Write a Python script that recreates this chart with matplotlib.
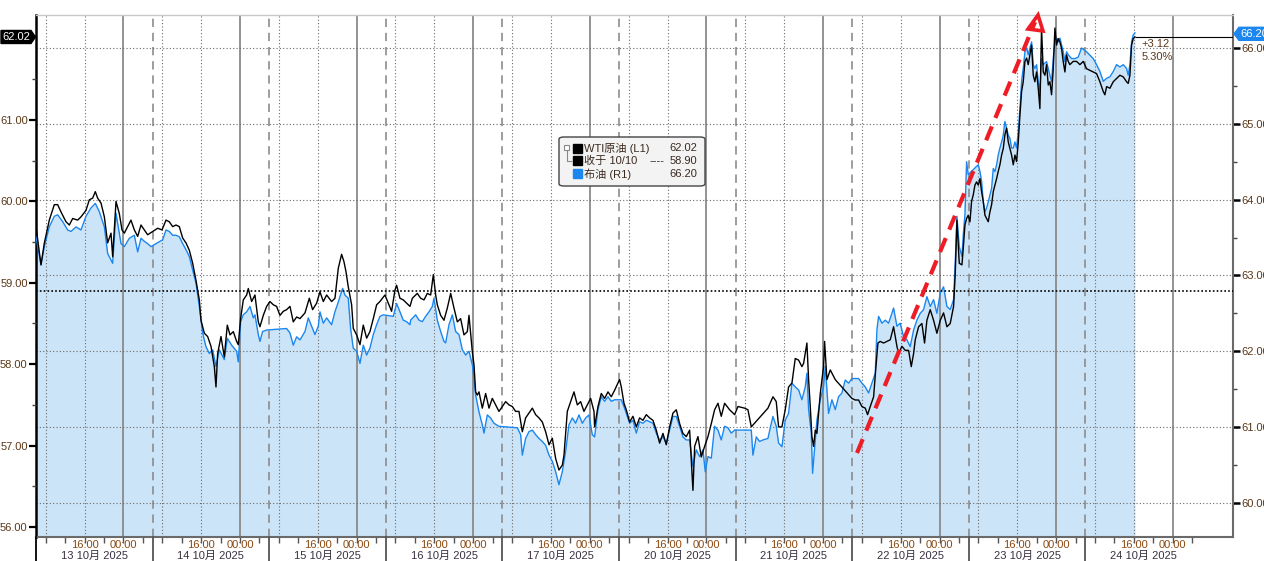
import matplotlib
matplotlib.use('Agg')
import matplotlib.pyplot as plt
from matplotlib import transforms
from matplotlib.patches import Polygon, FancyBboxPatch, Rectangle
from matplotlib.lines import Line2D

plt.rcParams['font.family'] = ['Liberation Sans', 'Noto Sans CJK SC', 'DejaVu Sans']

# ---------------- data ----------------
# time axis: hours since 13 Oct 06:00, sessions of 24h each (weekend compressed)
days = ['13', '14', '15', '16', '17', '20', '21', '22', '23', '24']
month_label = '10月'
year_label = '2025'

wti_t = [0.00, 1.03, 1.72, 2.74, 3.77, 4.46, 5.15, 6.17, 6.86, 7.55, 8.58, 9.26, 10.29, 10.98, 11.66, 12.21,
         12.69, 13.38, 14.07, 14.75, 15.44, 15.78, 16.47, 17.15, 17.70, 18.18, 18.87, 19.55, 20.24, 20.93,
         21.61, 22.30, 22.98, 24.01, 25.04, 25.94, 26.76, 27.44, 28.13, 28.82, 29.50, 30.19, 30.87, 31.56,
         32.25, 32.93, 33.62, 33.96, 34.65, 35.33, 36.02, 36.71, 37.05, 37.39, 38.08, 38.76,
         39.38, 39.93, 40.61, 41.30, 41.64, 42.12, 42.67, 43.36, 43.70, 44.39, 45.07, 45.76, 46.10, 46.79,
         47.48, 48.16, 48.85, 49.53, 50.22, 50.91, 51.59, 52.28, 52.96, 53.65, 54.34, 55.37, 56.26, 56.94,
         57.77, 58.45, 59.14, 59.83, 60.85, 61.54, 62.23, 62.91, 63.39, 63.80, 64.28, 64.97, 65.31, 66.00,
         66.69, 67.37, 68.06, 68.74, 69.43, 70.12, 70.80, 71.83, 72.52, 73.20, 73.89, 74.23, 74.92, 75.60,
         76.29, 76.98,
         77.47, 78.49, 79.18, 79.87, 80.55, 81.24, 81.79, 82.27, 82.61, 83.30, 83.98, 84.67, 85.36, 86.04,
         86.73, 87.41, 88.10, 88.79, 89.13, 89.82, 90.16, 90.50, 90.84, 91.19, 91.87, 92.56, 93.25, 93.93,
         94.62, 95.30, 95.99, 96.68, 97.36, 98.05, 98.73, 99.42, 100.11, 100.79, 101.48, 102.17, 102.85,
         103.54, 104.22, 104.91, 105.60, 106.28, 106.97, 107.65, 108.34, 108.68, 109.37, 110.06, 110.74,
         111.43, 112.11, 112.80, 113.49, 114.17, 114.86,
         114.99, 115.68, 116.36, 117.05, 117.74, 118.42, 119.11, 119.80, 120.14, 120.48, 121.03, 121.51,
         122.20, 122.88, 123.57, 124.25, 124.94, 125.63, 126.31, 127.00, 127.68, 128.37, 129.06, 129.74,
         130.43, 131.12, 131.80, 132.49, 133.17, 133.86, 134.55, 135.23, 135.58, 136.26, 136.95, 137.63,
         138.32, 139.01, 139.69, 140.38, 141.06, 141.75, 142.78, 143.81, 144.49, 145.87, 146.55, 147.24,
         150.67, 151.70, 152.38,
         152.86, 153.55, 154.23, 154.92, 155.61, 156.29, 156.98, 157.66, 158.01, 158.69, 159.04, 159.38,
         159.72, 160.07, 160.41, 160.75, 161.44, 162.12, 162.33, 162.81, 163.50, 163.84, 164.53, 167.96,
         168.64, 169.33, 170.01, 170.70, 171.18, 171.73, 172.42, 172.90, 173.31, 173.79, 174.47, 175.16,
         175.85, 176.53, 177.22, 177.56, 178.25, 178.93, 179.62, 180.17, 180.65, 180.99, 181.68, 182.36,
         182.91, 183.39, 184.08, 184.76, 185.45, 186.14, 186.82, 187.51, 188.19, 188.88, 189.23, 189.57,
         190.05, 190.60,
         190.87, 191.22, 191.56, 191.90, 192.25, 192.59, 192.93, 193.28, 193.62, 193.96, 194.31, 194.65,
         194.99, 195.34, 195.68, 196.02, 196.36, 196.71, 197.05, 197.39, 197.74, 198.08, 198.42, 198.77,
         199.11, 199.45, 199.79, 200.14, 200.48, 200.82, 201.17, 201.51, 201.85, 202.20, 202.54, 202.88,
         203.22, 203.57, 203.91, 204.25, 204.60, 204.94, 205.28, 205.62, 205.97, 206.31, 206.65, 206.99,
         207.34, 207.68, 208.02, 208.37, 208.71, 209.05, 209.40, 209.74, 210.08, 210.42, 210.77, 211.11,
         211.45, 211.80, 212.14, 212.48, 212.82, 213.51, 214.20, 214.89, 215.57, 216.26, 216.95, 217.63,
         218.32, 219.00, 219.69, 220.03, 220.38, 221.06, 221.75, 222.43, 223.12, 223.81, 224.49, 224.83,
         225.18, 225.52, 225.86, 226.21]
wti_v = [59.69, 59.22, 59.49, 59.77, 59.96, 59.96, 59.87, 59.75, 59.71, 59.79, 59.77, 59.81, 59.89, 60.02, 60.04, 60.12,
         60.04, 59.98, 59.81, 59.49, 59.61, 59.32, 60.00, 59.85, 59.65, 59.61, 59.69, 59.77, 59.65, 59.57,
         59.71, 59.65, 59.59, 59.63, 59.67, 59.65, 59.77, 59.75, 59.69, 59.71, 59.69, 59.55, 59.49, 59.40,
         59.24, 59.03, 58.79, 58.54, 58.38, 58.34, 58.22, 57.97, 57.72, 58.13, 58.34, 58.09,
         58.48, 58.36, 58.40, 58.28, 58.24, 58.56, 58.79, 58.85, 58.93, 58.77, 58.85, 58.52, 58.46, 58.60,
         58.71, 58.77, 58.73, 58.71, 58.60, 58.65, 58.67, 58.71, 58.52, 58.58, 58.56, 58.63, 58.81, 58.67,
         58.75, 58.89, 58.77, 58.85, 58.77, 58.81, 59.18, 59.35, 59.26, 59.14, 58.95, 58.73, 58.44, 58.36,
         58.24, 58.48, 58.32, 58.40, 58.56, 58.73, 58.77, 58.85, 58.75, 58.65, 58.91, 58.97, 58.81, 58.79,
         58.75, 58.71,
         58.81, 58.87, 58.81, 58.79, 58.87, 58.85, 59.10, 58.85, 58.73, 58.60, 58.54, 58.69, 58.87, 58.69,
         58.52, 58.56, 58.36, 58.40, 58.60, 58.15, 57.99, 57.66, 57.62, 57.66, 57.46, 57.64, 57.46, 57.58,
         57.50, 57.42, 57.48, 57.54, 57.50, 57.48, 57.42, 57.42, 57.17, 57.34, 57.40, 57.46, 57.38,
         57.34, 57.29, 57.17, 57.01, 57.09, 56.84, 56.70, 56.76, 56.88, 57.42, 57.54, 57.66,
         57.50, 57.54, 57.42, 57.50, 57.58, 57.42,
         57.23, 57.48, 57.64, 57.58, 57.66, 57.60, 57.68, 57.77, 57.81, 57.72, 57.52, 57.44,
         57.29, 57.36, 57.23, 57.34, 57.31, 57.38, 57.34, 57.31, 57.19, 57.03, 57.15, 57.01,
         57.23, 57.40, 57.44, 57.27, 57.15, 57.11, 57.19, 56.45, 56.99, 57.11, 56.86, 56.99,
         57.11, 57.27, 57.44, 57.52, 57.36, 57.52, 57.44, 57.38, 57.48, 57.46, 57.44, 57.23,
         57.46, 57.60, 57.54,
         57.23, 57.23, 57.44, 57.72, 57.77, 58.07, 58.05, 57.97, 58.01, 58.26, 57.81, 57.48,
         57.11, 56.99, 57.19, 57.15, 57.64, 57.97, 58.28, 57.81, 57.93, 57.89, 57.81, 57.58,
         57.56, 57.56, 57.48, 57.46, 57.38, 57.48, 57.60, 57.97, 58.26, 58.28, 58.26, 58.28,
         58.30, 58.46, 58.22, 58.13, 58.22, 58.17, 58.17, 57.97, 58.13, 58.30, 58.46, 58.50,
         58.26, 58.54, 58.67, 58.54, 58.38, 58.54, 58.63, 58.46, 58.50, 58.71, 59.12, 59.77,
         59.24, 59.22,
         59.42, 59.71, 59.79, 59.83, 59.75, 60.00, 60.08, 60.20, 60.24, 60.20, 60.28, 60.12,
         60.00, 59.83, 59.79, 59.75, 59.87, 59.96, 60.12, 60.20, 60.28, 60.37, 60.45, 60.57,
         60.65, 60.82, 60.90, 60.73, 60.65, 60.57, 60.45, 60.57, 60.49, 60.73, 61.06, 61.35,
         61.47, 61.72, 61.76, 61.68, 61.80, 61.92, 61.55, 61.47, 61.59, 61.39, 61.14, 62.13,
         61.59, 61.55, 61.68, 61.43, 61.47, 61.31, 61.63, 62.13, 61.92, 62.00, 61.96, 61.88,
         61.72, 61.59, 61.80, 61.72, 61.68, 61.72, 61.72, 61.68, 61.72, 61.63, 61.61, 61.59,
         61.57, 61.47, 61.35, 61.31, 61.41, 61.39, 61.47, 61.51, 61.55, 61.53, 61.47, 61.45,
         61.55, 61.92, 62.00, 62.02]

brent_t = [0.00, 1.03, 1.72, 2.74, 3.77, 4.46, 5.49, 6.52, 7.20, 8.23, 9.26, 10.29, 11.32, 12.21, 13.04, 14.07,
           14.75, 15.78, 16.47, 17.50, 18.18, 19.21, 20.24, 20.93, 21.61, 22.30, 22.98, 23.67, 26.07, 26.76,
           27.44, 28.13, 28.82, 29.50, 30.19, 30.87, 31.56, 32.25, 32.93, 33.62, 34.31, 34.99, 35.68, 36.36,
           37.05, 37.74, 38.76,
           39.38, 40.27, 41.30, 41.64, 42.12, 42.67, 43.36, 44.05, 44.73, 45.07, 45.76, 46.10, 46.65, 47.48,
           51.59, 52.28, 52.96, 53.65, 54.34, 55.37, 56.05, 56.74, 57.42, 58.11, 58.45, 59.14, 59.83, 60.85,
           61.54, 62.23, 63.12, 63.60, 64.28, 64.76, 65.31, 66.00, 66.69, 67.37, 68.06, 68.74, 69.43, 70.12,
           70.80, 71.49, 73.55, 74.23, 74.92, 75.60, 76.29, 76.98,
           77.12, 78.15, 78.84, 79.52, 80.21, 80.90, 81.58, 81.92, 82.61, 83.30, 83.98, 84.33, 85.01, 85.70,
           86.38, 87.07, 87.76, 88.44, 89.13, 89.82, 90.16, 90.50, 91.19, 91.87, 92.22, 92.90, 93.59, 94.27,
           95.30, 99.08, 99.76, 100.11, 100.79, 101.48, 102.17, 102.85, 103.54, 104.22, 104.91, 105.60,
           106.28, 106.97, 107.65, 108.34, 109.03, 109.71, 110.40, 111.08, 111.77, 112.46, 113.14, 113.83,
           114.51,
           114.99, 115.68, 116.36, 117.05, 117.74, 118.42, 119.11, 120.48, 121.03, 121.51, 122.20, 122.88,
           123.57, 124.25, 124.94, 125.63, 126.31, 127.00, 127.68, 128.37, 129.06, 129.74, 130.43, 131.12,
           131.80, 132.49, 133.17, 133.86, 134.55, 135.23, 135.92, 136.60, 137.29, 137.77, 138.32, 139.01,
           139.69, 140.38, 141.06, 141.75, 142.44, 143.12, 143.81, 147.24, 147.58, 148.27, 148.95, 149.64,
           150.67, 151.36, 151.70, 152.38,
           152.86, 153.55, 154.23, 154.92, 155.61, 156.29, 156.98, 157.66, 158.35, 158.69, 159.04, 159.59,
           159.86, 160.41, 160.75, 161.44, 162.12, 162.47, 163.15, 163.84, 164.53, 165.21, 165.90, 166.58,
           167.27, 167.96, 169.33, 170.01, 170.70, 171.39, 172.07, 172.76, 173.10, 173.44, 174.13, 174.82,
           175.50, 176.19, 176.53, 177.22, 177.90, 178.59, 179.27, 179.96, 180.65, 181.33, 182.02, 182.71,
           183.39, 184.08, 184.76, 185.45, 186.14, 186.82, 187.51, 188.19, 188.88, 189.36, 189.57, 190.05,
           190.60,
           190.87, 191.22, 191.56, 191.90, 193.96, 194.31, 194.65, 194.99, 195.34, 195.68, 196.02, 196.36,
           196.71, 197.05, 197.39, 197.74, 198.08, 198.42, 198.77, 199.11, 199.45, 199.79, 200.14, 200.48,
           200.82, 201.17, 201.51, 201.85, 202.20, 202.54, 202.88, 203.22, 203.57, 203.91, 204.25, 204.60,
           204.94, 205.28, 205.62, 205.97, 206.31, 206.65, 206.99, 207.34, 208.02, 208.71, 209.05, 209.40,
           209.74, 210.08, 210.42, 210.77, 211.11, 211.45, 211.80, 212.14, 212.48, 213.17, 213.86, 214.54,
           215.23, 216.26, 217.63, 218.32, 219.00, 219.69, 220.38, 221.06, 221.75, 222.43, 223.12, 223.81,
           224.49, 224.83, 225.18, 225.52, 225.86, 226.21]
brent_v = [63.51, 63.14, 63.38, 63.64, 63.78, 63.80, 63.71, 63.60, 63.58, 63.64, 63.60, 63.78, 63.89, 63.95, 63.84, 63.64,
           63.29, 63.16, 63.82, 63.42, 63.38, 63.49, 63.53, 63.31, 63.49, 63.45, 63.42, 63.38, 63.47, 63.60,
           63.58, 63.53, 63.53, 63.51, 63.42, 63.34, 63.25, 63.07, 62.90, 62.59, 62.24, 62.06, 61.97, 62.02,
           61.80, 62.02, 61.89,
           62.17, 62.08, 62.00, 61.86, 62.39, 62.48, 62.52, 62.59, 62.44, 62.48, 62.22, 62.13, 62.26, 62.28,
           62.30, 62.24, 62.08, 62.19, 62.15, 62.26, 62.44, 62.33, 62.22, 62.33, 62.52, 62.37, 62.44, 62.35,
           62.52, 62.65, 62.83, 62.74, 62.70, 62.30, 62.04, 62.00, 61.84, 62.08, 61.95, 62.04, 62.22, 62.35,
           62.46, 62.48, 62.46, 62.63, 62.52, 62.41, 62.39, 62.35,
           62.41, 62.48, 62.41, 62.39, 62.46, 62.52, 62.59, 62.70, 62.41, 62.26, 62.13, 62.11, 62.35, 62.48,
           62.26, 62.22, 62.02, 61.95, 62.00, 61.82, 61.64, 61.42, 61.20, 61.03, 60.92, 61.16, 61.12, 61.05,
           61.01, 60.99, 60.90, 60.63, 60.85, 60.94, 60.96, 60.90, 60.85, 60.81, 60.76, 60.63,
           60.55, 60.41, 60.24, 60.41, 60.68, 61.03, 61.12, 61.05, 61.16, 61.05, 61.12, 61.16,
           60.90,
           60.87, 61.23, 61.40, 61.34, 61.40, 61.34, 61.36, 61.36, 61.27, 61.18, 61.05, 61.09,
           60.92, 61.07, 61.05, 61.09, 61.07, 61.05, 60.92, 60.83, 60.87, 60.79, 60.96, 61.14,
           61.14, 61.01, 60.87, 60.83, 60.83, 60.48, 60.70, 60.61, 60.70, 60.41, 60.61, 60.59,
           61.01, 60.96, 60.83, 61.01, 60.99, 60.92, 60.96, 60.96, 60.63, 60.87, 60.81, 60.83,
           60.85, 61.05, 61.14, 61.01,
           60.79, 60.74, 61.09, 61.18, 61.58, 61.53, 61.49, 61.36, 61.53, 61.71, 61.23, 60.92,
           60.39, 60.83, 61.09, 61.36, 61.53, 61.80, 61.18, 61.36, 61.23, 61.40, 61.45, 61.62,
           61.58, 61.64, 61.64, 61.58, 61.53, 61.45, 61.58, 61.71, 62.28, 62.46, 62.37, 62.41,
           62.37, 62.50, 62.57, 62.33, 62.37, 62.19, 62.15, 62.06, 62.28, 62.41, 62.50, 62.55,
           62.72, 62.59, 62.68, 62.50, 62.77, 62.85, 62.59, 62.55, 62.68, 63.38, 63.78, 63.38,
           63.25,
           63.53, 63.80, 64.50, 64.33, 64.46, 64.37, 64.24, 63.97, 63.84, 63.89, 63.97, 64.06,
           64.15, 64.41, 64.37, 64.46, 64.59, 64.68, 64.76, 64.85, 65.03, 64.94, 64.85, 64.81,
           64.68, 64.68, 64.76, 64.68, 64.90, 65.20, 65.56, 65.73, 65.95, 66.00, 65.91, 66.00,
           66.08, 65.78, 65.73, 65.78, 65.56, 65.42, 65.86, 65.78, 65.82, 65.64, 65.56, 65.86,
           66.08, 66.13, 66.08, 66.13, 66.04, 65.95, 65.82, 65.95, 65.91, 65.86, 65.86, 65.88,
           66.00, 65.95, 65.86, 65.78, 65.69, 65.56, 65.60, 65.62, 65.69, 65.78, 65.75, 65.78,
           65.73, 65.64, 65.78, 66.08, 66.17, 66.20]

wti_close = 58.90
close_date = '10/10'
wti_name = 'WTI原油 (L1)'
close_name = '收于 ' + close_date
brent_name = '布油 (R1)'
wti_ticks = [56, 57, 58, 59, 60, 61]
brent_ticks = [60, 61, 62, 63, 64, 65, 66]

# ---------------- figure ----------------
W, H = 1264, 561
fig = plt.figure(figsize=(W / 100, H / 100), dpi=100)
fig.patch.set_facecolor('white')
L, R, T, B = 36, 1233, 15, 537
ax = fig.add_axes([L / W, 1 - B / H, (R - L) / W, (B - T) / H])
ax2 = ax.twinx()
ax.set_xlim(0, 246.4)
ax.set_ylim(59.55, 66.435)      # Brent (right)
ax2.set_ylim(55.877, 62.29)     # WTI (left)

ax.yaxis.tick_right()
ax2.yaxis.tick_left()

c_blue = '#1a86ee'
c_fill = '#cce4f8'
c_grid = '#6a6a6a'
c_time = '#8b4a12'
c_date = '#3a3040'
c_ytick = '#5a3818'

# fill + brent line
ax.fill_between(brent_t, brent_v, ax.get_ylim()[0], color=c_fill, lw=0, zorder=1)
ax.plot(brent_t, brent_v, color=c_blue, lw=1.0, zorder=4)

# grid
n_days = len(days)
for i in range(n_days):
    base = i * 24
    if i > 0:
        ax.axvline(base, color='#8c8c8c', lw=1.2, ls=(0, (5, 3.5)), zorder=2)
    ax.axvline(base + 2, color=c_grid, lw=0.8, ls=(0, (1, 2)), zorder=2)
    ax.axvline(base + 10, color=c_grid, lw=0.8, ls=(0, (1, 2)), zorder=2)
    ax.axvline(base + 18, color='#8a8a8a', lw=1.3, zorder=2)
for v in brent_ticks:
    ax.axhline(v, color=c_grid, lw=0.8, ls=(0, (1, 2)), zorder=2)

# WTI line and close line
ax2.axhline(wti_close, color='black', lw=1.2, ls=(0, (1, 1.3)), zorder=2)
ax2.plot(wti_t, wti_v, color='black', lw=1.0, zorder=5)
ax2.hlines(wti_v[-1], wti_t[-1], ax.get_xlim()[1], color='black', lw=0.8, zorder=5)

# spines
for s in ax2.spines.values():
    s.set_visible(False)
ax.spines['left'].set_color('black')
ax.spines['left'].set_linewidth(1.8)
ax.spines['top'].set_color('#c8c8c8')
ax.spines['top'].set_linewidth(1.0)
ax.spines['right'].set_color('#6a6a6a')
ax.spines['right'].set_linewidth(1.5)
ax.spines['bottom'].set_color('#6a6a6a')
ax.spines['bottom'].set_linewidth(1.5)

# y ticks
ax2.set_yticks(wti_ticks)
ax2.set_yticklabels([f'{v:.2f}' for v in wti_ticks])
ax2.set_yticks([v + 0.5 for v in wti_ticks], minor=True)
ax2.tick_params(axis='y', which='major', direction='out', length=5, width=1.6, color='black',
                labelsize=8, labelcolor=c_ytick, pad=1)
ax2.tick_params(axis='y', which='minor', direction='out', length=3, width=1.0, color='#444')

ax.set_yticks(brent_ticks)
ax.set_yticklabels([f'{v:.2f}' for v in brent_ticks])
ax.set_yticks([v + 0.5 for v in brent_ticks[:-1]], minor=True)
ax.tick_params(axis='y', which='major', direction='out', length=5, width=1.8, color='black',
               labelsize=8, labelcolor=c_ytick, pad=1)
ax.tick_params(axis='y', which='minor', direction='out', length=3, width=1.0, color='#444')

# x ticks (every 4h) and labels
ax.set_xticks([])
ax.set_xticks([i * 24 + h for i in range(n_days) for h in (2, 6, 10, 14, 18, 22)], minor=True)
ax.tick_params(axis='x', which='minor', direction='out', length=4, width=1.0, color='#555')
ax.tick_params(axis='x', which='major', labelbottom=False, length=0)

trans = transforms.blended_transform_factory(ax.transData, ax.transAxes)
for i, d in enumerate(days):
    base = i * 24
    ax.text(base + 10, -0.0155, '16:00', transform=trans, ha='center', va='center',
            fontsize=8, color=c_time, clip_on=False)
    ax.text(base + 18, -0.0155, '00:00', transform=trans, ha='center', va='center',
            fontsize=8, color=c_time, clip_on=False)
    ax.text(base + 12, -0.037, f'{d} {month_label} {year_label}', transform=trans, ha='center',
            va='center', fontsize=8, color=c_date, clip_on=False)
    ax.plot([base, base], [0, -0.06], transform=trans, color='#555' if i else 'black',
            lw=1.3, clip_on=False, zorder=6)

# ---------------- red dashed arrow (annotation) ----------------
def afrac(px, py):
    return ((px - L) / (R - L), (B - py) / (B - T))

p0 = afrac(857, 453)
p1 = afrac(1035, 22)
ax2.plot([p0[0], p1[0]], [p0[1], p1[1]], transform=ax2.transAxes, color='#ee1c25', lw=3,
         ls=(0, (3.6, 2.2)), solid_capstyle='butt', clip_on=False, zorder=10)
head = Polygon([afrac(1028, 29), afrac(1038, 15), afrac(1043, 31)], closed=True, fill=False,
               edgecolor='#ee1c25', lw=2.6, transform=ax2.transAxes, clip_on=False, zorder=10)
ax2.add_patch(head)

# ---------------- figure-level annotations ----------------
def fx(px):
    return px / W

def fy(py):
    return 1 - py / H

fig.canvas.draw()
# last value tags
y_wti = ax2.transData.transform((0, wti_v[-1]))[1]
y_wti_px = H - y_wti
tag = Polygon([(fx(1), fy(y_wti_px - 6.5)), (fx(31), fy(y_wti_px - 6.5)), (fx(35.5), fy(y_wti_px)),
               (fx(31), fy(y_wti_px + 6.5)), (fx(1), fy(y_wti_px + 6.5))],
              closed=True, transform=fig.transFigure, facecolor='black', edgecolor='black', zorder=20)
fig.patches.append(tag)
fig.text(fx(16.5), fy(y_wti_px), f'{wti_v[-1]:.2f}', color='white', fontsize=8, ha='center',
         va='center', zorder=21)

y_br = ax.transData.transform((0, brent_v[-1]))[1]
y_br_px = H - y_br + 1
tag2 = Polygon([(fx(1234), fy(y_br_px)), (fx(1239), fy(y_br_px - 6.5)), (fx(1266), fy(y_br_px - 6.5)),
                (fx(1266), fy(y_br_px + 6.5)), (fx(1239), fy(y_br_px + 6.5))],
               closed=True, transform=fig.transFigure, facecolor=c_blue, edgecolor=c_blue, zorder=20)
fig.patches.append(tag2)
fig.text(fx(1240), fy(y_br_px), f'{brent_v[-1]:.2f}', color='white', fontsize=8, ha='left',
         va='center', zorder=21)

# change annotation
chg = wti_v[-1] - wti_close
ax2.annotate(f'+{chg:.2f}', xy=(wti_t[-1], wti_v[-1]), xytext=(7, -7), textcoords='offset pixels',
             fontsize=8, color='#5a3818', ha='left', va='center', annotation_clip=False)
ax2.annotate(f'{chg / wti_close * 100:.2f}%', xy=(wti_t[-1], wti_v[-1]), xytext=(7, -20),
             textcoords='offset pixels', fontsize=8, color='#5a3818', ha='left', va='center',
             annotation_clip=False)

# legend box
box = FancyBboxPatch((fx(559), fy(186)), fx(705) - fx(559), fy(137) - fy(186),
                     boxstyle='round,pad=0,rounding_size=0.004', transform=fig.transFigure,
                     facecolor='#f3f3f3', edgecolor='#444', lw=1.0, zorder=20)
fig.patches.append(box)
rows = [(148, 'black', wti_name, f'{wti_v[-1]:.2f}'),
        (161, 'black', close_name, f'{wti_close:.2f}'),
        (174, c_blue, brent_name, f'{brent_v[-1]:.2f}')]
for py, col, name, val in rows:
    sq = Rectangle((fx(573), fy(py + 4.5)), fx(9), fy(0) - fy(9), transform=fig.transFigure,
                   facecolor=col, edgecolor=col, zorder=21)
    fig.patches.append(sq)
    fig.text(fx(584), fy(py), name, fontsize=8, color='#3a2a20', ha='left', va='center', zorder=22)
    fig.text(fx(697), fy(py), val, fontsize=8, color='#3a2a20', ha='right', va='center', zorder=22)
fig.text(fx(649), fy(161), '----', fontsize=8, color='#3a2a20', ha='left', va='center', zorder=22)
# tree icon
fig.patches.append(Rectangle((fx(564), fy(150)), fx(5), fy(0) - fy(5), transform=fig.transFigure,
                             facecolor='white', edgecolor='#888', lw=0.8, zorder=21))
fig.lines.append(Line2D([fx(566.5), fx(566.5), fx(571)], [fy(150), fy(161), fy(161)],
                        transform=fig.transFigure, color='#888', lw=0.8, zorder=21))

fig.savefig('out.png', dpi=100, facecolor='white')
